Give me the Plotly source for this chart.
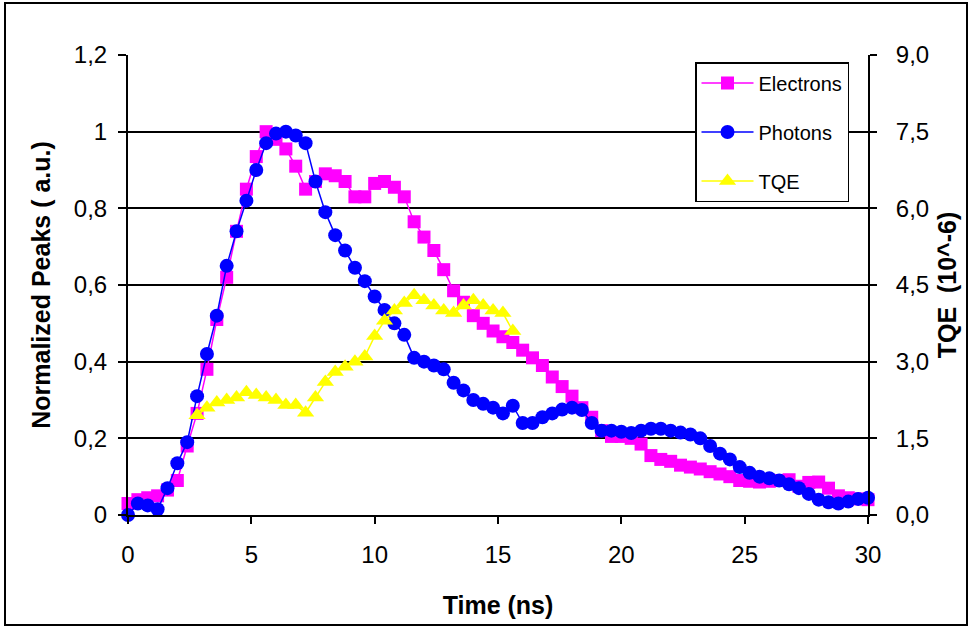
import plotly.graph_objects as go

# Sampling times (ns)
time_ns = [0.0, 0.4, 0.8, 1.2, 1.6, 2.0, 2.4, 2.8, 3.2, 3.6, 4.0, 4.4, 4.8, 5.2, 5.6,
           6.0, 6.4, 6.8, 7.2, 7.6, 8.0, 8.4, 8.8, 9.2, 9.6, 10.0, 10.4, 10.8, 11.2,
           11.6, 12.0, 12.4, 12.8, 13.2, 13.6, 14.0, 14.4, 14.8, 15.2, 15.6, 16.0,
           16.4, 16.8, 17.2, 17.6, 18.0, 18.4, 18.8, 19.2, 19.6, 20.0, 20.4, 20.8,
           21.2, 21.6, 22.0, 22.4, 22.8, 23.2, 23.6, 24.0, 24.4, 24.8, 25.2, 25.6,
           26.0, 26.4, 26.8, 27.2, 27.6, 28.0, 28.4, 28.8, 29.2, 29.6, 30.0]

# Normalized electron peaks (a.u.)
electrons = [0.03, 0.04, 0.045, 0.05, 0.065, 0.09, 0.18, 0.265, 0.38, 0.51, 0.62,
             0.74, 0.85, 0.935, 1.0, 0.98, 0.955, 0.91, 0.85, 0.87, 0.89, 0.885,
             0.87, 0.83, 0.83, 0.865, 0.87, 0.855, 0.83, 0.765, 0.725, 0.69, 0.64,
             0.585, 0.555, 0.52, 0.5, 0.48, 0.465, 0.45, 0.43, 0.41, 0.39, 0.36,
             0.335, 0.31, 0.28, 0.255, 0.22, 0.205, 0.205, 0.2, 0.185, 0.155, 0.145,
             0.14, 0.13, 0.125, 0.12, 0.113, 0.107, 0.1, 0.09, 0.088, 0.086, 0.088,
             0.09, 0.092, 0.075, 0.085, 0.086, 0.07, 0.05, 0.045, 0.042, 0.04]

# Normalized photon peaks (a.u.)
photons = [0.0, 0.03, 0.025, 0.015, 0.07, 0.135, 0.19, 0.31, 0.42, 0.52, 0.65,
           0.74, 0.82, 0.9, 0.97, 0.995, 1.0, 0.99, 0.97, 0.87, 0.79, 0.73, 0.69,
           0.645, 0.61, 0.57, 0.535, 0.5, 0.47, 0.41, 0.4, 0.39, 0.38, 0.345, 0.325,
           0.3, 0.29, 0.28, 0.265, 0.285, 0.24, 0.24, 0.255, 0.265, 0.275, 0.28,
           0.274, 0.24, 0.22, 0.22, 0.217, 0.214, 0.22, 0.225, 0.225, 0.22, 0.215,
           0.21, 0.2, 0.18, 0.16, 0.145, 0.125, 0.11, 0.1, 0.096, 0.09, 0.08, 0.07,
           0.055, 0.04, 0.033, 0.03, 0.035, 0.042, 0.045]

# TQE (10^-6), available only from 2.8 to 15.6 ns
tqe_time = [2.8, 3.2, 3.6, 4.0, 4.4, 4.8, 5.2, 5.6, 6.0, 6.4, 6.8, 7.2, 7.6, 8.0,
            8.4, 8.8, 9.2, 9.6, 10.0, 10.4, 10.8, 11.2, 11.6, 12.0, 12.4, 12.8,
            13.2, 13.6, 14.0, 14.4, 14.8, 15.2, 15.6]
tqe = [1.95, 2.1, 2.2, 2.25, 2.3, 2.4, 2.35, 2.3, 2.25, 2.15, 2.15, 2.0, 2.3, 2.6,
       2.8, 2.9, 3.0, 3.1, 3.5, 3.8, 4.0, 4.15, 4.3, 4.2, 4.1, 4.0, 3.95, 4.1, 4.2,
       4.1, 4.0, 3.95, 3.6]

x_ticks = [0, 5, 10, 15, 20, 25, 30]
left_ticks = [0, 0.2, 0.4, 0.6, 0.8, 1.0, 1.2]
left_labels = ["0", "0,2", "0,4", "0,6", "0,8", "1", "1,2"]
right_ticks = [0, 1.5, 3.0, 4.5, 6.0, 7.5, 9.0]
right_labels = ["0,0", "1,5", "3,0", "4,5", "6,0", "7,5", "9,0"]

FONT = "Liberation Sans"
TICK_SIZE = 24
TITLE_SIZE = 25

fig = go.Figure()

fig.add_trace(go.Scatter(
    x=tqe_time, y=tqe, name="TQE", yaxis="y2", mode="lines+markers",
    line=dict(color="#FFFF00", width=1.5),
    marker=dict(symbol="triangle-up", size=15, color="#FFFF00"),
    cliponaxis=False, legendrank=3, legendgroup="c"))

fig.add_trace(go.Scatter(
    x=time_ns, y=electrons, name="Electrons", mode="lines+markers",
    line=dict(color="#FF00FF", width=1.5),
    marker=dict(symbol="square", size=13, color="#FF00FF"),
    cliponaxis=False, legendrank=1, legendgroup="a"))

fig.add_trace(go.Scatter(
    x=time_ns, y=photons, name="Photons", mode="lines+markers",
    line=dict(color="#0000FF", width=1.5),
    marker=dict(symbol="circle", size=14, color="#0000FF"),
    cliponaxis=False, legendrank=2, legendgroup="b"))

# Outer frame around the whole chart
fig.add_shape(type="rect", xref="paper", yref="paper",
              x0=(5 - 128) / 740, x1=(967 - 128) / 740,
              y0=(515 - 625) / 460, y1=(515 - 3) / 460,
              line=dict(color="black", width=2), layer="below")

fig.update_layout(
    width=972, height=629,
    margin=dict(l=128, r=104, t=55, b=114),
    paper_bgcolor="white", plot_bgcolor="white",
    font=dict(family=FONT, color="black", size=20),
    showlegend=True,
    legend=dict(
        x=(695 - 128) / 740, y=(515 - 62) / 460, xanchor="left", yanchor="top",
        bordercolor="black", borderwidth=1.5, bgcolor="white",
        font=dict(family=FONT, size=20, color="black"),
        tracegroupgap=20, traceorder="grouped", itemwidth=52,
    ),
    xaxis=dict(
        range=[0, 30], tickvals=x_ticks, ticktext=[str(v) for v in x_ticks],
        showgrid=False, zeroline=False,
        showline=True, linecolor="black", linewidth=2,
        ticks="outside", ticklen=7, tickwidth=2, tickcolor="black",
        tickfont=dict(size=TICK_SIZE), ticklabelstandoff=10,
        title=dict(text="<b>Time (ns)</b>", font=dict(size=TITLE_SIZE), standoff=30),
    ),
    yaxis=dict(
        range=[0, 1.2], tickvals=left_ticks, ticktext=left_labels,
        showgrid=True, gridcolor="black", gridwidth=2,
        zeroline=False, showline=True, linecolor="black", linewidth=2,
        ticks="outside", ticklen=8, tickwidth=2, tickcolor="black",
        tickfont=dict(size=TICK_SIZE), ticklabelstandoff=6,
        title=dict(text="<b>Normalized Peaks ( a.u.)</b>", font=dict(size=TITLE_SIZE), standoff=16),
    ),
    yaxis2=dict(
        range=[0, 9], tickvals=right_ticks, ticktext=right_labels,
        overlaying="y", side="right", showgrid=False, zeroline=False,
        showline=True, linecolor="black", linewidth=2,
        ticks="outside", ticklen=7, tickwidth=2, tickcolor="black",
        tickfont=dict(size=TICK_SIZE), ticklabelstandoff=14,
        title=dict(text="<b>TQE  (10^-6)</b>", font=dict(size=TITLE_SIZE), standoff=10),
    ),
)

fig.write_html("out.html")
